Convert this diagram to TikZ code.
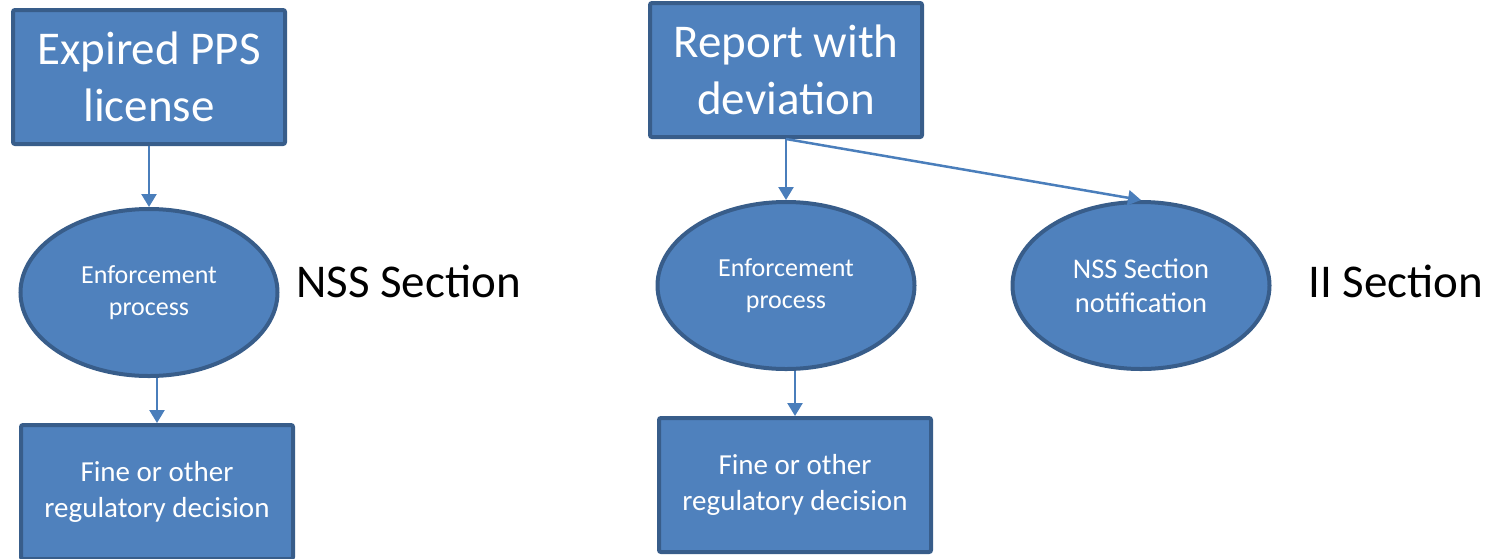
\documentclass[tikz,border=0pt]{standalone}
\usepackage{fontspec}
\setmainfont{Carlito}
\usetikzlibrary{positioning,shapes.geometric,arrows.meta}
\definecolor{boxfill}{HTML}{4F81BD}
\definecolor{boxline}{HTML}{385D8A}
\definecolor{arrowblue}{HTML}{4A7EBB}

\begin{document}
\begin{tikzpicture}[
    x=1pt, y=-1pt,
    node distance=61pt,
    every node/.style={inner sep=0pt, align=center},
    bigbox/.style={rectangle, rounded corners=2pt, draw=boxline, fill=boxfill, line width=4pt,
        minimum width=272pt, minimum height=134pt, text=white},
    oval/.style={ellipse, draw=boxline, fill=boxfill, line width=4pt,
        minimum width=257pt, minimum height=167pt, text=white},
    arr/.style={-{Triangle[width=15pt,length=13pt]}, draw=arrowblue, line width=2.5pt},
    huge/.style={font=\fontsize{47}{57}\selectfont},
    mid/.style={font=\fontsize{29}{36}\selectfont},
    small/.style={font=\fontsize{26}{32}\selectfont}
]
    \useasboundingbox (0,0) rectangle (1501,558);

    % Left column
    \node[bigbox, huge] (expired) at (149,77) {Expired PPS\\license};
    \node[oval, small, below=of expired] (enforce_a) {Enforcement\\process};
    \node[bigbox, mid, below=45pt of enforce_a, xshift=8pt] (fine_a) {Fine or other\\regulatory decision};
    \node[anchor=base west, huge] (nss_label) at (296,297) {NSS Section};

    % Right column
    \node[bigbox, huge] (report) at (786,70) {Report with\\deviation};
    \node[oval, small, below=of report] (enforce_b) {Enforcement\\process};
    \node[oval, font=\fontsize{28.5}{34}\selectfont, right=94pt of enforce_b] (notify) {NSS Section\\notification};
    \node[bigbox, mid, below=45pt of enforce_b, xshift=9pt] (fine_b) {Fine or other\\regulatory decision};
    \node[anchor=base west, huge] (ii_label) at (1308,297) {II Section};

    % Arrows
    \draw[arr] (expired) -- (enforce_a);
    \draw[arr] (enforce_a.south -| fine_a.north) -- (fine_a);
    \draw[arr] (report) -- (enforce_b);
    \draw[arr] (report.south) -- (notify.north);
    \draw[arr] (enforce_b.south -| fine_b.north) -- (fine_b);
\end{tikzpicture}
\end{document}
